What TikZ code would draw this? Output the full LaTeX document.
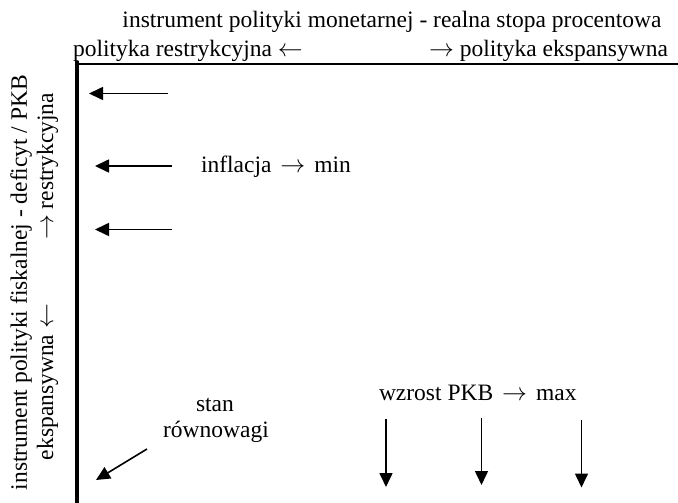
\documentclass[tikz,border=0pt]{standalone}
\usepackage{fontspec}
\setmainfont{Liberation Serif}
\usetikzlibrary{arrows.meta}
\newcommand{\la}{$\leftarrow$}
\newcommand{\ra}{$\rightarrow$}
\begin{document}
\begin{tikzpicture}[x=1pt,y=-1pt,
  lbl/.style={inner sep=0pt,outer sep=0pt,font=\fontsize{23.5}{26}\selectfont},
  arr/.style={line width=1.6pt,-{Triangle[length=14pt,width=13pt]}},
  axis/.style={line cap=butt}]
\useasboundingbox (0,0) rectangle (678,503);
% axes
\coordinate (o) at (77,61.5);
\coordinate (ob) at (77,503);
\coordinate (h0) at (75,63.8);
\coordinate (h1) at (678,63.8);
\draw[axis,line width=2pt] (h0) -- (h1);
\draw[axis,line width=4.5pt] (o) -- (ob);
% top labels
\node[lbl,anchor=base] (t1) at (392,28) {instrument polityki monetarnej - realna stopa procentowa};
\node[lbl,anchor=base west] (t2) at (73,57) {polityka restrykcyjna \la};
\node[lbl,anchor=base east] (t3) at (668,57) {\ra\ polityka ekspansywna};
% left labels
\node[lbl,rotate=90,anchor=base] (l1) at (27,282.5) {instrument polityki fiskalnej - deficyt / PKB};
\node[lbl,rotate=90,anchor=base west] (l2) at (53,460) {ekspansywna \la};
\node[lbl,rotate=90,anchor=base east] (l3) at (53,93) {\ra\ restrykcyjna};
% inflation arrows
\coordinate (a1s) at (168,93.5);
\coordinate (a1e) at (89,93.5);
\coordinate (a2s) at (172,166);
\coordinate (a2e) at (95,166);
\coordinate (a3s) at (172,229.5);
\coordinate (a3e) at (95,229.5);
\draw[arr] (a1s) -- (a1e);
\draw[arr] (a2s) -- (a2e);
\draw[arr] (a3s) -- (a3e);
\node[lbl,anchor=base west] (infl) at (201,172) {inflacja\hspace{9pt}\ra\hspace{9pt}min};
% equilibrium
\node[lbl,anchor=base] (stan) at (215,411) {stan};
\node[lbl,anchor=base] (rown) at (216,437) {równowagi};
\coordinate (ds) at (147,449);
\coordinate (de) at (96,480);
\draw[arr] (ds) -- (de);
% growth
\node[lbl,anchor=base west] (gdp) at (379,400) {wzrost PKB\hspace{9pt}\ra\hspace{9pt}max};
\coordinate (g1s) at (386,419);
\coordinate (g1e) at (386,487);
\coordinate (g2s) at (481.5,417.5);
\coordinate (g2e) at (481.5,485);
\coordinate (g3s) at (581.5,420);
\coordinate (g3e) at (581.5,487.5);
\draw[arr] (g1s) -- (g1e);
\draw[arr] (g2s) -- (g2e);
\draw[arr] (g3s) -- (g3e);
\end{tikzpicture}
\end{document}
